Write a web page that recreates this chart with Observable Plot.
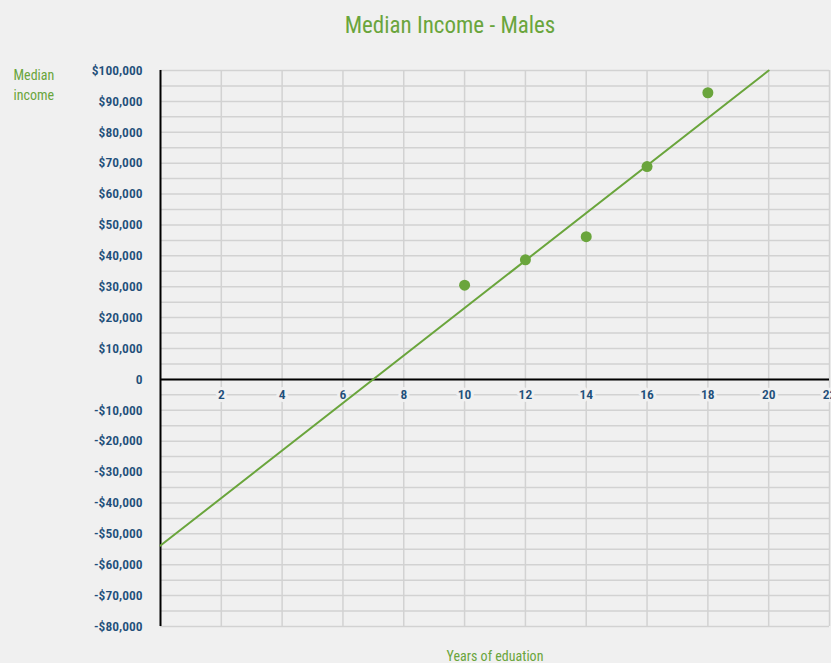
<!DOCTYPE html>
<html><head><meta charset="utf-8">
<script src="https://cdn.jsdelivr.net/npm/d3@7"></script>
<script src="https://cdn.jsdelivr.net/npm/@observablehq/plot@0.6"></script>
<style>
html,body{margin:0;padding:0;background:#f0f0f0;}
#chart svg{display:block;overflow:hidden;}
</style></head><body><div id="chart"></div>
<script>
const title = "Median Income - Males";
const yLabel = "Median\nincome";
const xLabel = "Years of eduation";
const years = [10, 12, 14, 16, 18];
const income = [30500, 38700, 46200, 68900, 92800];
const trendYears = [0, 20];
const trendIncome = [-53800, 100000];
const xTicks = [2, 4, 6, 8, 10, 12, 14, 16, 18, 20, 22];
const yTicks = d3.range(-80000, 100001, 10000);
const yMinor = d3.range(-80000, 100001, 5000);

const green = "#6aa53c";
const blue = "#1f4f7a";
const font = "'Liberation Sans Narrow', 'Roboto Condensed', 'Open Sans', sans-serif";

const pts = years.map((x, i) => ({x, y: income[i]}));
const trend = trendYears.map((x, i) => ({x, y: trendIncome[i]}));
const fmt = d => d === 0 ? "0" : (d < 0 ? "-" : "") + "$" + d3.format(",")(Math.abs(d));

const chart = Plot.plot({
  width: 831,
  height: 663,
  marginLeft: 160,
  marginRight: 2,
  marginTop: 70,
  marginBottom: 37,
  style: {background: "#f0f0f0", fontFamily: font, overflow: "hidden"},
  x: {domain: [0, 22], axis: null},
  y: {domain: [-80000, 100000], axis: null},
  marks: [
    Plot.ruleY(yMinor, {stroke: "#d2d2d2", strokeWidth: 1.5}),
    Plot.ruleX(xTicks, {stroke: "#d2d2d2", strokeWidth: 1.5}),
    Plot.ruleY([0], {stroke: "#000", strokeWidth: 2}),
    Plot.ruleX([0], {stroke: "#000", strokeWidth: 2}),
    Plot.text(xTicks, {x: d => d, y: 0, dy: 15, text: d => String(d), fill: blue, fontSize: 13.5,
      stroke: "#f0f0f0", strokeWidth: 6, fontWeight: 600}),
    Plot.text(yTicks, {x: 0, y: d => d, dx: -18, text: fmt, textAnchor: "end", fill: blue, fontSize: 13.5, fontWeight: 600}),
    Plot.line(trend, {x: "x", y: "y", stroke: green, strokeWidth: 2}),
    Plot.dot(pts, {x: "x", y: "y", r: 5.5, fill: green}),
    Plot.text([title], {frameAnchor: "top", lineAnchor: "middle", dx: -45, dy: -45, text: d => d, fill: green, fontSize: 23}),
    Plot.text([yLabel], {frameAnchor: "top-left", dx: -147, dy: -5, text: d => d, fill: green, fontSize: 14, textAnchor: "start", lineHeight: 1.45}),
    Plot.text([xLabel], {frameAnchor: "bottom", dy: 34, text: d => d, fill: green, fontSize: 14})
  ]
});
document.getElementById("chart").append(chart);
</script></body></html>
